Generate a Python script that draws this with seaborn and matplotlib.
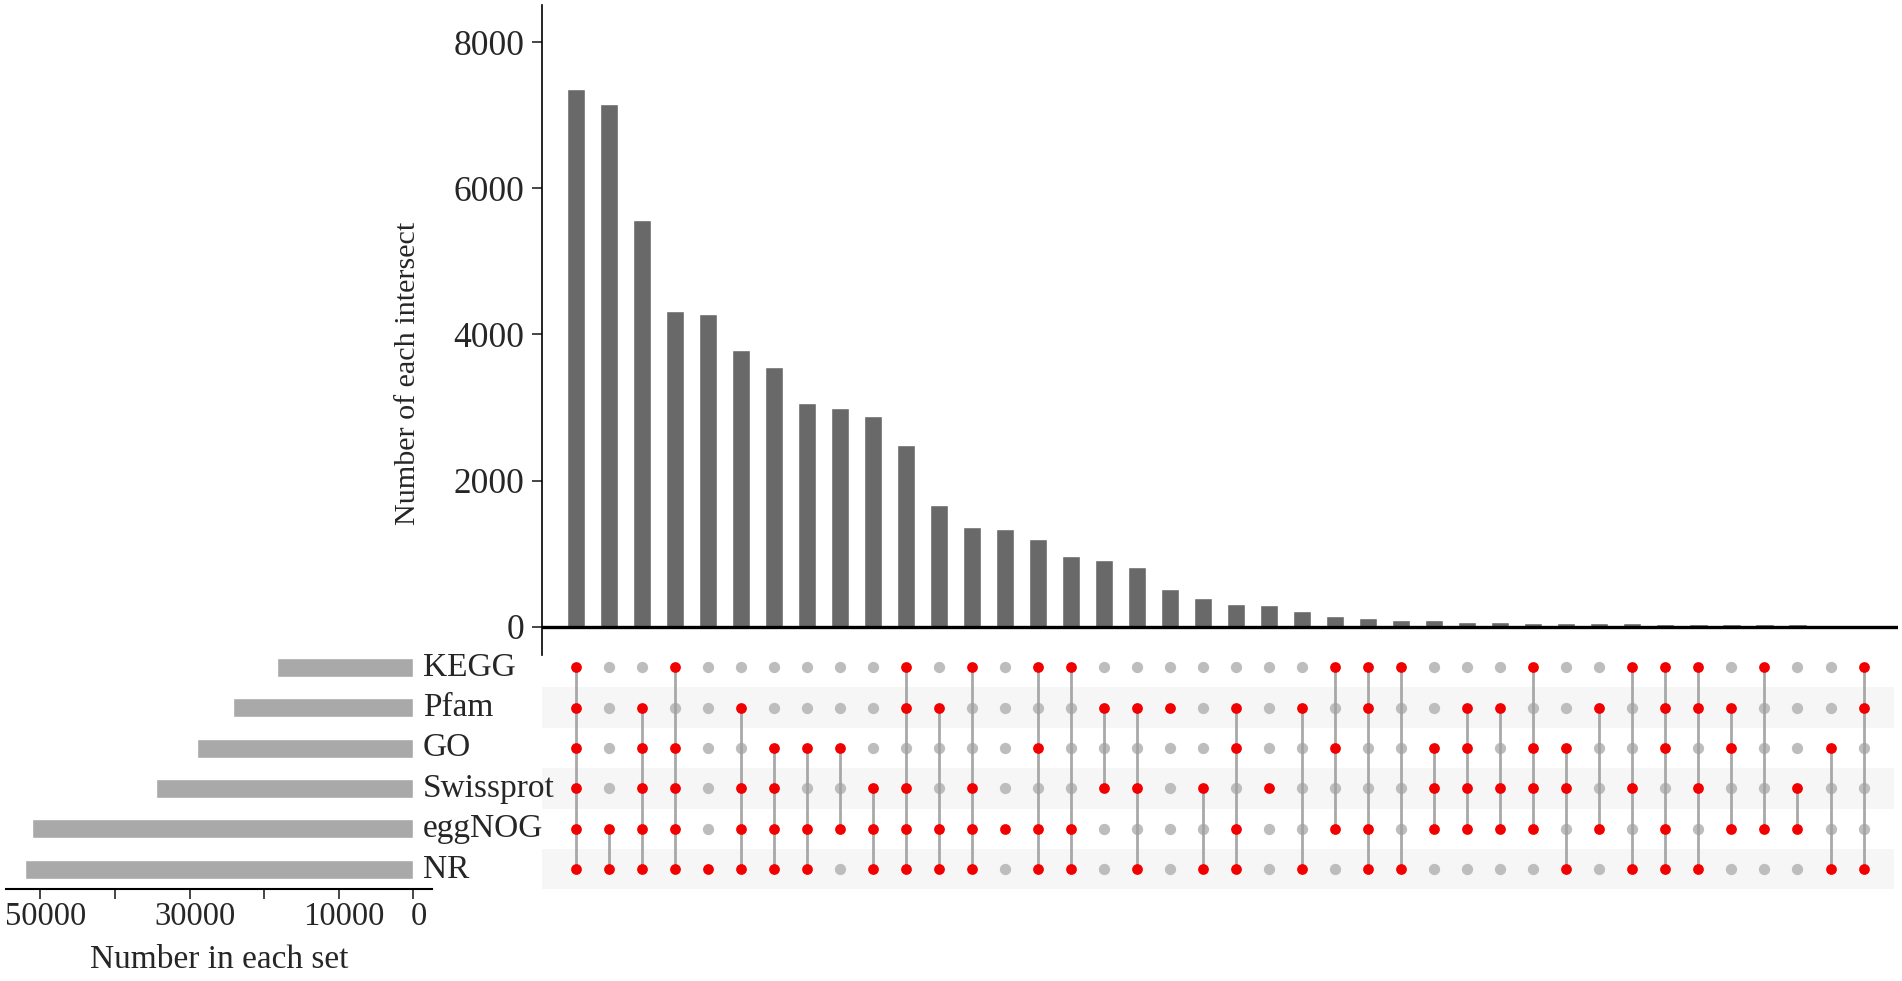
import numpy as np
import pandas as pd
import matplotlib
matplotlib.use('Agg')
import matplotlib.pyplot as plt
import matplotlib.transforms as mtransforms
import seaborn as sns

# Sets (top to bottom in the matrix) and their sizes
sets = ['KEGG', 'Pfam', 'GO', 'Swissprot', 'eggNOG', 'NR']
set_sizes = [18300, 24150, 28950, 34450, 51100, 52000]

# Intersection sizes, sorted as in the figure
intersect_counts = [7365, 7160, 5560, 4315, 4285, 3780, 3550, 3060, 2990, 2885,
                    2490, 1670, 1370, 1335, 1200, 960, 905, 820, 520, 390,
                    308, 300, 210, 141, 123, 96, 87, 64, 62, 50,
                    50, 46, 46, 41, 36, 36, 36, 32, 18, 3]

# Which sets take part in each intersection
members = [
    ['KEGG', 'Pfam', 'GO', 'Swissprot', 'eggNOG', 'NR'],
    ['eggNOG', 'NR'],
    ['Pfam', 'GO', 'Swissprot', 'eggNOG', 'NR'],
    ['KEGG', 'GO', 'Swissprot', 'eggNOG', 'NR'],
    ['NR'],
    ['Pfam', 'Swissprot', 'eggNOG', 'NR'],
    ['GO', 'Swissprot', 'eggNOG', 'NR'],
    ['GO', 'eggNOG', 'NR'],
    ['GO', 'eggNOG'],
    ['Swissprot', 'eggNOG', 'NR'],
    ['KEGG', 'Pfam', 'Swissprot', 'eggNOG', 'NR'],
    ['Pfam', 'eggNOG', 'NR'],
    ['KEGG', 'Swissprot', 'eggNOG', 'NR'],
    ['eggNOG'],
    ['KEGG', 'GO', 'eggNOG', 'NR'],
    ['KEGG', 'eggNOG', 'NR'],
    ['Pfam', 'Swissprot'],
    ['Pfam', 'Swissprot', 'NR'],
    ['Pfam'],
    ['Swissprot', 'NR'],
    ['Pfam', 'GO', 'eggNOG', 'NR'],
    ['Swissprot'],
    ['Pfam', 'NR'],
    ['KEGG', 'GO', 'eggNOG'],
    ['KEGG', 'Pfam', 'eggNOG', 'NR'],
    ['KEGG', 'NR'],
    ['GO', 'Swissprot', 'eggNOG'],
    ['Pfam', 'GO', 'Swissprot', 'eggNOG'],
    ['Pfam', 'Swissprot', 'eggNOG'],
    ['KEGG', 'GO', 'Swissprot', 'eggNOG'],
    ['GO', 'Swissprot', 'NR'],
    ['Pfam', 'eggNOG'],
    ['KEGG', 'Swissprot', 'NR'],
    ['KEGG', 'Pfam', 'GO', 'eggNOG', 'NR'],
    ['KEGG', 'Pfam', 'Swissprot', 'NR'],
    ['Pfam', 'GO', 'eggNOG'],
    ['KEGG', 'eggNOG'],
    ['Swissprot', 'eggNOG'],
    ['GO', 'NR'],
    ['KEGG', 'Pfam', 'NR'],
]

sns.set_style('white')
plt.rcParams['font.family'] = ['Liberation Serif', 'DejaVu Serif']

n = len(intersect_counts)

# long table for the dot matrix
rows = []
for i, mem in enumerate(members):
    for r, s in enumerate(sets):
        rows.append({'col': i, 'row': r, 'set': s, 'present': s in mem})
mat = pd.DataFrame(rows)

fig = plt.figure(figsize=(19.02, 9.81), dpi=100)
ax_bar = fig.add_axes([0.285, 0.3323, 0.713, 0.6626])
ax_mat = fig.add_axes([0.285, 0.0933, 0.713, 0.2471])
ax_set = fig.add_axes([0.0032, 0.0933, 0.224, 0.2471])
ax_bar.set_facecolor('none')
ax_mat.set_facecolor('none')

# Intersection bars
sns.barplot(x=list(range(n)), y=intersect_counts, color='#696969', saturation=1,
            width=0.55, ax=ax_bar)
ax_bar.axhline(0, color='black', linewidth=2.4, zorder=5)
ax_bar.set_xlim(-1.02, n + 0.05)
ax_bar.set_ylim(-389, 8510)
ax_bar.set_yticks([0, 2000, 4000, 6000, 8000])
ax_bar.set_xticks([])
ax_bar.tick_params(axis='y', labelsize=25.5, direction='out', length=7.5, width=1.2, pad=5,
                   left=True)
ax_bar.set_ylabel('Number of each intersect', fontsize=21.7)
ax_bar.yaxis.set_label_coords(-0.089, 0.434)
ax_bar.set_xlabel('')
for sp in ['top', 'right', 'bottom']:
    ax_bar.spines[sp].set_visible(False)
ax_bar.spines['left'].set_linewidth(1.2)
ax_bar.spines['left'].set_color('black')

# Dot matrix
for r in range(len(sets)):
    if r % 2 == 1:
        ax_mat.axhspan(r - 0.5, r + 0.5, xmax=0.997, color='#f6f6f6', zorder=0, lw=0)
absent = mat[~mat['present']]
present = mat[mat['present']]
sns.scatterplot(data=absent, x='col', y='row', color='#bdbdbd', s=66,
                linewidth=0, ax=ax_mat, zorder=2)
span = present.groupby('col')['row'].agg(['min', 'max'])
ax_mat.vlines(span.index, span['min'], span['max'], color='#a0a0a0',
              linewidth=2.0, alpha=0.9, zorder=3)
sns.scatterplot(data=present, x='col', y='row', color='#f20000', s=60,
                linewidth=0, ax=ax_mat, zorder=4)
ax_mat.set_xlim(-1.02, n + 0.05)
ax_mat.set_ylim(len(sets) - 0.5, -0.5)
ax_mat.set_xticks([])
ax_mat.set_yticks([])
ax_mat.set_xlabel('')
ax_mat.set_ylabel('')
for sp in ax_mat.spines.values():
    sp.set_visible(False)

# Set size bars
sns.barplot(x=set_sizes, y=sets, orient='h', color='#a9a9a9', saturation=1,
            width=0.47, ax=ax_set)
ax_set.set_ylim(len(sets) - 0.5, -0.5)
ax_set.set_xlim(54600, -2500)
ax_set.set_xticks([50000, 40000, 30000, 20000, 10000, 0])
ax_set.set_xticklabels(['50000', '', '30000', '', '10000', '0'])
ax_set.tick_params(axis='x', labelsize=23.5, direction='out', length=7.2, width=1.2, pad=1.5,
                   bottom=True)
shift = mtransforms.ScaledTranslation(0.05, 0, fig.dpi_scale_trans)
for lab in ax_set.get_xticklabels():
    lab.set_transform(lab.get_transform() + shift)
ax_set.set_yticks([])
ax_set.set_ylabel('')
ax_set.set_xlabel('Number in each set', fontsize=24, labelpad=9)
for sp in ['top', 'right', 'left']:
    ax_set.spines[sp].set_visible(False)
ax_set.spines['bottom'].set_linewidth(1.5)
ax_set.spines['bottom'].set_color('black')

# set names between the two panels
trans = mtransforms.blended_transform_factory(fig.transFigure, ax_set.transData)
for r, s in enumerate(sets):
    ax_set.text(0.2224, r, s, transform=trans, ha='left', va='center',
                fontsize=24, clip_on=False)

fig.savefig('out.png', dpi=100)
